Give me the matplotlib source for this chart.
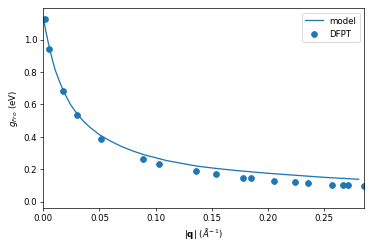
import matplotlib
matplotlib.use('Agg')
import matplotlib.pyplot as plt
import numpy as np

# DFPT points
q_dfpt = [0.001, 0.0053, 0.0173, 0.0298, 0.0514, 0.0891, 0.1029, 0.1361, 0.1542,
          0.1783, 0.1854, 0.2056, 0.2241, 0.2356, 0.2570, 0.2668, 0.2718, 0.2860]
g_dfpt = [1.128, 0.942, 0.683, 0.534, 0.386, 0.262, 0.233, 0.186, 0.169,
          0.148, 0.147, 0.130, 0.120, 0.116, 0.105, 0.105, 0.104, 0.097]

# model curve samples
q_model = [0.0, 0.002, 0.004, 0.006, 0.008, 0.0104, 0.014, 0.018, 0.024, 0.030,
           0.036, 0.042, 0.050, 0.060, 0.070, 0.080, 0.090, 0.110, 0.137, 0.155,
           0.175, 0.200, 0.226, 0.250, 0.281]
g_model = [1.135, 1.059, 0.992, 0.933, 0.876, 0.815, 0.748, 0.681, 0.601, 0.542,
           0.494, 0.456, 0.413, 0.373, 0.339, 0.312, 0.289, 0.253, 0.219, 0.204,
           0.190, 0.175, 0.162, 0.150, 0.138]

fig = plt.figure(figsize=(6, 4), dpi=374 / 6)
ax = fig.add_subplot(111)
fig.subplots_adjust(left=0.116, right=0.974, bottom=0.166, top=0.965)

ax.plot(q_model, g_model, label='model')
ax.scatter(q_dfpt, g_dfpt, s=45, label='DFPT')

ax.set_xlim(0, max(q_dfpt))
ax.set_ylim(-0.037, 1.193)
ax.set_xlabel(r'$|\mathbf{q}|$ $(\AA^{-1})$')
ax.set_ylabel(r'$g_{Fro}$ (eV)')
ax.legend(loc='upper right')

fig.savefig('out.png', dpi=374 / 6)
